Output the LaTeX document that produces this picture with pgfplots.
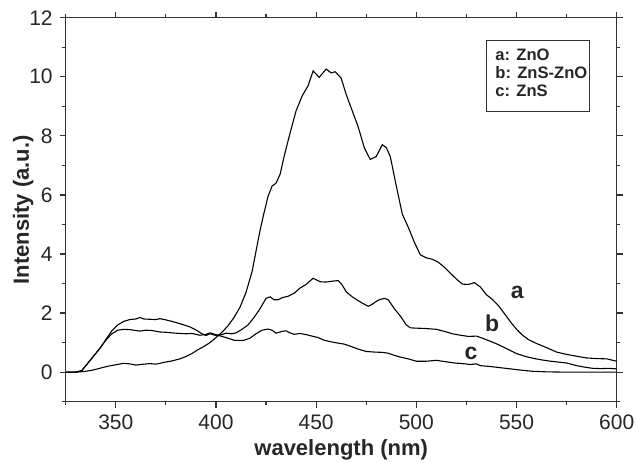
\documentclass[border=0pt]{standalone}
\usepackage{pgfplots}
\pgfplotsset{compat=1.18}
\usepackage{fontspec}
\setmainfont{Liberation Sans}

% ZnO
\pgfplotstableread{
x y
325 0
330 0
334 0.02
338 0.06
342 0.13
346 0.2
350 0.25
354 0.3
357 0.28
360 0.24
364 0.27
367 0.29
370 0.27
374 0.33
378 0.38
382 0.45
385 0.53
388 0.63
391 0.76
394 0.87
397 1.0
400 1.17
403 1.35
406 1.57
409 1.85
412 2.2
415 2.7
418 3.4
420 4.1
422 4.8
424 5.4
426 5.95
428 6.3
430 6.4
432 6.7
434 7.3
437 8.1
440 8.85
443 9.35
446 9.7
448.5 10.2
451.5 9.98
455 10.26
457.5 10.13
459.5 10.17
462.5 9.95
465 9.4
468 8.85
471 8.3
474 7.6
477 7.2
480 7.3
483 7.7
485 7.6
487 7.3
490 6.3
493 5.35
496 4.9
499 4.4
502 3.97
505 3.87
508 3.82
511 3.72
514 3.55
517 3.35
520 3.15
523 2.98
526 2.97
529 3.03
532 2.88
535 2.62
538 2.46
541 2.25
544 1.98
547 1.7
550 1.45
553 1.25
556 1.1
560 0.97
565 0.83
570 0.68
575 0.6
580 0.54
585 0.48
590 0.46
595 0.45
600 0.37
}\zno

% ZnS-ZnO
\pgfplotstableread{
x y
325 0
330 0
333 0.05
336 0.3
339 0.55
342 0.8
345 1.1
348 1.4
351 1.6
354 1.72
357 1.78
360 1.8
362 1.85
364 1.8
367 1.79
370 1.78
372 1.81
375 1.77
378 1.72
381 1.66
384 1.6
387 1.53
390 1.43
393 1.3
395 1.24
397 1.3
400 1.24
403 1.27
405 1.32
408 1.3
410 1.33
413 1.45
416 1.6
419 1.85
422 2.15
425 2.5
427 2.55
429 2.45
431 2.45
433 2.52
436 2.57
439 2.67
442 2.85
445 2.97
448.5 3.18
452 3.06
455 3.05
458 3.08
461 3.1
463 2.95
465 2.72
468 2.55
471 2.42
474 2.3
476 2.23
478 2.3
481 2.44
484 2.5
486 2.45
489 2.15
492 1.9
495 1.6
497 1.5
500 1.49
504 1.48
510 1.45
514 1.38
518 1.3
522 1.25
526 1.21
530 1.22
533 1.15
536 1.07
540 0.96
545 0.8
550 0.63
555 0.52
559 0.46
563 0.41
567 0.37
571 0.34
575 0.31
580 0.22
584 0.17
588 0.13
592 0.12
596 0.13
600 0.11
}\znszno

% ZnS
\pgfplotstableread{
x y
325 0
330 0
333 0.05
336 0.3
339 0.55
342 0.8
345 1.08
348 1.3
351 1.42
354 1.45
357 1.44
360 1.41
362 1.39
365 1.42
368 1.41
372 1.36
375 1.35
378 1.33
382 1.31
385 1.3
388 1.31
392 1.25
395 1.28
397 1.33
400 1.27
403 1.21
406 1.15
409 1.08
412 1.07
414 1.08
417 1.15
420 1.3
423 1.42
426 1.46
428 1.42
430 1.32
433 1.38
435 1.4
437 1.33
439 1.28
442 1.31
445 1.27
448 1.22
451 1.17
454 1.08
458 1.02
462 0.97
464 0.95
467 0.88
471 0.78
475 0.7
479 0.68
483 0.67
486 0.64
489 0.57
492 0.51
496 0.45
500 0.37
505 0.37
510 0.4
515 0.35
519 0.31
523 0.29
527 0.26
530 0.28
532 0.22
537 0.19
542 0.15
547 0.11
552 0.07
558 0.03
565 0.01
575 0
590 0
600 0
}\zns

\begin{document}
\begin{tikzpicture}
\begin{axis}[
    name=ax,
    scale only axis,
    width=275.5pt, height=192pt,
    xmin=325, xmax=600,
    ymin=-1, ymax=12,
    xtick={350,400,...,600},
    minor xtick={325,375,...,575},
    ytick={0,2,...,12},
    minor ytick={-1,1,...,11},
    tick align=outside,
    major tick length=3pt,
    minor tick length=1.8pt,
    axis line style={line width=0.6pt, black!80},
    every tick/.style={line width=0.6pt, black!80},
    tick label style={font=\fontsize{10.5}{12}\selectfont, black!85},
    /pgf/number format/assume math mode=true,
    xlabel={\bfseries wavelength (nm)},
    ylabel={\bfseries Intensity (a.u.)},
    label style={font=\fontsize{11}{13}\selectfont, black!85},
    xlabel style={yshift=2pt},
    ylabel style={yshift=-9pt},
]
\addplot[black, line width=0.55pt] table[x=x,y=y] {\zno};
\addplot[black, line width=0.55pt] table[x=x,y=y] {\znszno};
\addplot[black, line width=0.55pt] table[x=x,y=y] {\zns};

\draw[black!80, line width=0.6pt] (axis cs:534.9,8.82) rectangle (axis cs:586.5,11.24);
\node[anchor=north west, align=left, inner sep=0pt,
      font=\fontsize{8.3}{9.2}\selectfont\bfseries, black!85]
  at (axis cs:539.3,10.97) {a: ZnO\\b: ZnS-ZnO\\c: ZnS};

\node[font=\fontsize{11.5}{13}\selectfont\bfseries, black!85] at (axis cs:550.4,2.71) {a};
\node[font=\fontsize{11.5}{13}\selectfont\bfseries, black!85] at (axis cs:537.8,1.67) {b};
\node[font=\fontsize{11.5}{13}\selectfont\bfseries, black!85] at (axis cs:527.3,0.65) {c};
\end{axis}
\pgfresetboundingbox
\path ([shift={(-32.85pt,-30.65pt)}]ax.south west) rectangle ([shift={(9.65pt,8.85pt)}]ax.north east);
\end{tikzpicture}
\end{document}
